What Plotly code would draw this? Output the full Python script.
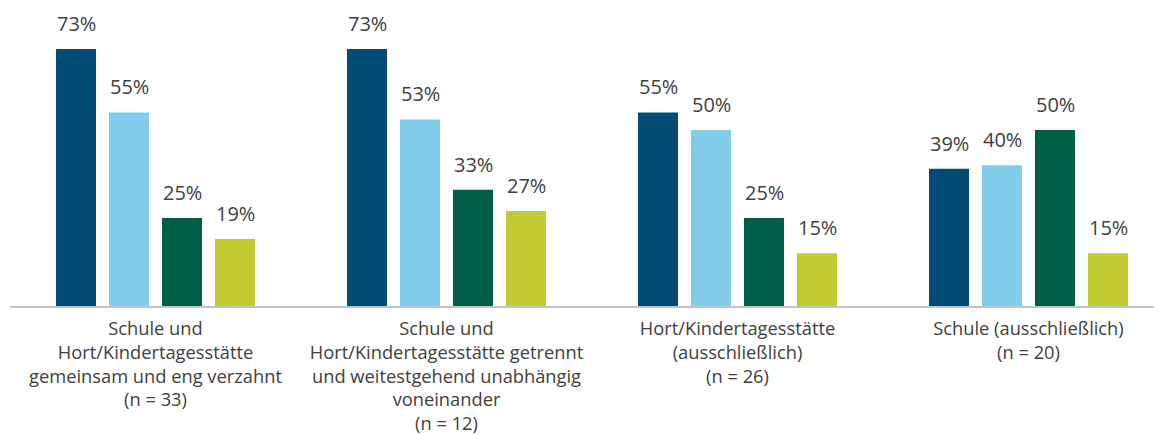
import plotly.graph_objects as go

categories = [
    "Schule und<br>Hort/Kindertagesstätte<br>gemeinsam und eng verzahnt<br>(n = 33)",
    "Schule und<br>Hort/Kindertagesstätte getrennt<br>und weitestgehend unabhängig<br>voneinander<br>(n = 12)",
    "Hort/Kindertagesstätte<br>(ausschließlich)<br>(n = 26)",
    "Schule (ausschließlich)<br>(n = 20)",
]
series1 = [73, 73, 55, 39]
series2 = [55, 53, 50, 40]
series3 = [25, 33, 25, 50]
series4 = [19, 27, 15, 15]
colors = ["#024B74", "#80CDEC", "#005F46", "#C2CB33"]

all_series = [series1, series2, series3, series4]

W, H = 1162, 435
# page body has an 8px margin, compensate so plot area lands at page x 10..1162, y ..303
ml, mr, mt, mb = 2, 8, 2, 137
plot_w = W - ml - mr
px_per_group = 291.0
x_max = -0.5 + plot_w / px_per_group
slot = 53.0 / px_per_group
bar_w = 40.0 / px_per_group
y_max = (H - mt - mb) / 3.52

text_color = "#404040"
font_family = "Open Sans, Liberation Sans, sans-serif"
label_size = 20
tick_size = 18.3

fig = go.Figure()
annotations = []
n = len(all_series)
for i, (vals, col) in enumerate(zip(all_series, colors)):
    off = (i - (n - 1) / 2) * slot
    xs = [g + off for g in range(len(categories))]
    fig.add_trace(go.Bar(x=xs, y=vals, width=bar_w, marker=dict(color=col, line=dict(width=0)),
                         showlegend=False, hoverinfo="skip"))
    for x, v in zip(xs, vals):
        annotations.append(dict(x=x, y=v, xref="x", yref="y", text=f"{v}%", showarrow=False,
                                yanchor="bottom", yshift=10,
                                font=dict(size=label_size, color=text_color, family=font_family)))

fig.update_layout(
    width=W, height=H,
    margin=dict(l=ml, r=mr, t=mt, b=mb),
    paper_bgcolor="white", plot_bgcolor="white",
    barmode="overlay",
    annotations=annotations,
    xaxis=dict(range=[-0.5, x_max], tickvals=list(range(len(categories))), ticktext=categories,
               showgrid=False, zeroline=False, showline=True, linecolor="#C0C4C8", linewidth=2,
               ticks="", ticklabelstandoff=5,
               tickfont=dict(size=tick_size, color=text_color, family=font_family)),
    yaxis=dict(range=[0, y_max], visible=False, showgrid=False, zeroline=False),
)

fig.write_html("out.html")
